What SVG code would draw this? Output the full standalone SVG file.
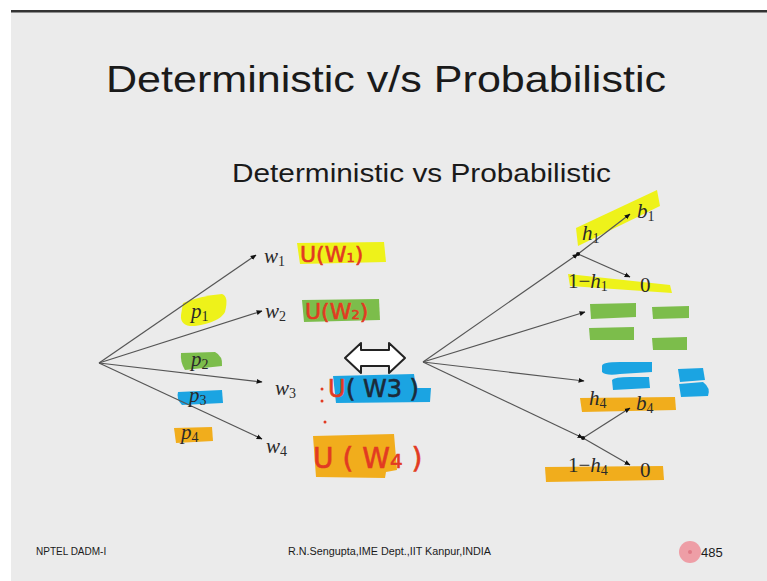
<svg xmlns="http://www.w3.org/2000/svg" width="767" height="581" viewBox="0 0 767 581">
<defs>
<marker id="ah" viewBox="0 0 10 10" refX="9" refY="5" markerWidth="6" markerHeight="6" orient="auto" markerUnits="userSpaceOnUse">
<path d="M0,1 L10,5 L0,9 z" fill="#111"/>
</marker>
<style>
.ln{stroke:#555;stroke-width:1.2;fill:none;marker-end:url(#ah)}
.sans{font-family:"Liberation Sans",Arial,sans-serif;fill:#1a1a1a}
.m{font-family:"Liberation Serif","Times New Roman",serif;font-style:italic;fill:#2a2a2a;font-size:21px}
.mu{font-family:"Liberation Serif","Times New Roman",serif;fill:#2a2a2a;font-size:21px}
.sub{font-style:normal;font-size:14px}
.hw{font-family:"DejaVu Sans",sans-serif;fill:#e23a22;stroke:#e23a22;stroke-width:0.6}
.yel{fill:#eef21a}
.grn{fill:#7cbd4b}
.blu{fill:#1ba4e2}
.org{fill:#f1ad1c}
.dot{fill:#111}
</style>
</defs>
<rect x="0" y="0" width="767" height="581" fill="#ffffff"/>
<rect x="11" y="12" width="756" height="569" fill="#ebebeb"/>
<rect x="11" y="10" width="756" height="2.5" fill="#333"/>

<g id="title">
<text class="sans" x="106" y="92" font-size="36" textLength="560" lengthAdjust="spacingAndGlyphs">Deterministic v/s Probabilistic</text>
</g>
<g id="subtitle">
<text class="sans" x="232" y="182" font-size="25" textLength="379" lengthAdjust="spacingAndGlyphs">Deterministic vs Probabilistic</text>
</g>

<g id="highlights">
<path class="yel" d="M183,303 Q200,296 222,294 Q229,296 225,312 Q220,322 195,326 Q180,327 181,315 Z"/>
<path class="grn" d="M181,353 L215,352 Q223,356 222,366 L185,370 Q180,362 181,353 Z"/>
<path class="blu" d="M178,392 L222,390 L223,403 L182,405 Q176,399 178,392 Z"/>
<path class="org" d="M174,428 L212,427 L213,441 L176,443 Z"/>
<path class="yel" d="M297,243 L384,242 L386,262 L300,264 Z"/>
<path class="grn" d="M302,300 L379,299 L380,320 L304,322 Z"/>
<path class="blu" d="M333,376 L414,374 L416,388 L431,388 L430,402 L336,403 Z"/>
<path class="org" d="M313,436 L394,434 L397,470 L386,472 L385,478 L316,477 Z"/>
<path class="yel" d="M576,228 L657,190 L660,206 L578,246 Z"/>
<path class="yel" d="M568,274 L670,285 L672,293 L570,286 Z"/>
<path class="grn" d="M590,304 L636,303 L636,317 L591,319 Z"/>
<path class="grn" d="M652,307 L689,306 L689,318 L653,319 Z"/>
<path class="grn" d="M589,328 L634,327 L634,340 L590,340 Z"/>
<path class="grn" d="M652,338 L687,337 L687,350 L653,350 Z"/>
<path class="blu" d="M602,366 Q602,362 620,362 L652,362 L652,372 L620,374 Q606,376 602,372 Z"/>
<path class="blu" d="M612,380 Q614,377 630,377 L649,377 L650,388 L613,390 Z"/>
<path class="blu" d="M678,369 L703,368 L705,380 L680,382 Z"/>
<path class="blu" d="M679,384 L703,382 Q711,388 708,396 L681,397 Z"/>
<path class="org" d="M580,398 L675,397 L676,410 L582,412 Z"/>
<path class="org" d="M545,467 L663,466 L664,480 L546,482 Z"/>
</g>

<g id="connectors">
<line class="ln" x1="99" y1="363" x2="256" y2="255"/>
<line class="ln" x1="99" y1="363" x2="262" y2="311"/>
<line class="ln" x1="99" y1="363" x2="262" y2="382"/>
<line class="ln" x1="99" y1="363" x2="262" y2="439"/>
<line class="ln" x1="423" y1="362" x2="578" y2="254"/>
<line class="ln" x1="423" y1="362" x2="585" y2="312"/>
<line class="ln" x1="423" y1="362" x2="584" y2="381"/>
<line class="ln" x1="423" y1="362" x2="583" y2="438"/>
<line class="ln" x1="578" y1="254" x2="630" y2="214"/>
<line class="ln" x1="578" y1="254" x2="630" y2="277"/>
<line class="ln" x1="583" y1="438" x2="630" y2="408"/>
<line class="ln" x1="583" y1="438" x2="630" y2="465"/>
<circle class="dot" cx="578" cy="254" r="2"/>
<circle class="dot" cx="583" cy="438" r="2"/>
</g>

<g id="w1"><text class="m" x="264" y="263">w<tspan class="sub" dy="3">1</tspan></text></g>
<g id="w2"><text class="m" x="265" y="318">w<tspan class="sub" dy="3">2</tspan></text></g>
<g id="w3"><text class="m" x="275" y="395">w<tspan class="sub" dy="3">3</tspan></text></g>
<g id="w4"><text class="m" x="266" y="453">w<tspan class="sub" dy="3">4</tspan></text></g>

<g id="p1"><text class="m" x="191" y="318">p<tspan class="sub" dy="3">1</tspan></text></g>
<g id="p2"><text class="m" x="191" y="366">p<tspan class="sub" dy="3">2</tspan></text></g>
<g id="p3"><text class="m" x="189" y="402">p<tspan class="sub" dy="3">3</tspan></text></g>
<g id="p4"><text class="m" x="181" y="439">p<tspan class="sub" dy="3">4</tspan></text></g>

<g id="u1"><text class="hw" x="300" y="262" font-size="22">U(W<tspan font-size="13">1</tspan>)</text></g>
<g id="u2"><text class="hw" x="305" y="319" font-size="22">U(W<tspan font-size="13">2</tspan>)</text></g>
<g id="u3">
<text class="hw" x="328" y="397" font-size="24">U</text>
<text x="346" y="397" font-size="24" font-family="'DejaVu Sans',sans-serif" fill="#1b2a3a" stroke="#1b2a3a" stroke-width="0.6">( W3 )</text>
<circle cx="322" cy="389" r="1.5" fill="#e23a22"/>
<circle cx="322" cy="401" r="1.5" fill="#e23a22"/>
<circle cx="325" cy="422" r="1.5" fill="#e23a22"/>
</g>
<g id="u4"><text class="hw" x="313" y="468" font-size="28">U ( W<tspan font-size="20">4</tspan> )</text></g>

<g id="dblarrow">
<path d="M345,358 L361,343 L361,350 L389,350 L389,343 L405,358 L389,373 L389,366 L361,366 L361,373 Z" fill="#ffffff" stroke="#222" stroke-width="2" stroke-linejoin="round"/>
</g>

<g id="h1"><text class="m" x="582" y="240">h<tspan class="sub" dy="3">1</tspan></text></g>
<g id="b1"><text class="m" x="637" y="218">b<tspan class="sub" dy="3">1</tspan></text></g>
<g id="nh1"><text class="mu" x="568" y="288">1−<tspan font-style="italic">h</tspan><tspan class="sub" dy="3">1</tspan></text></g>
<g id="z1"><text class="mu" x="640" y="292">0</text></g>
<g id="h4"><text class="m" x="589" y="405">h<tspan class="sub" dy="3">4</tspan></text></g>
<g id="b4"><text class="m" x="636" y="410">b<tspan class="sub" dy="3">4</tspan></text></g>
<g id="nh4"><text class="mu" x="568" y="472">1−<tspan font-style="italic">h</tspan><tspan class="sub" dy="3">4</tspan></text></g>
<g id="z4"><text class="mu" x="640" y="477">0</text></g>

<g id="footer">
<text class="sans" x="36" y="555" font-size="10" fill="#444">NPTEL DADM-I</text>
<text class="sans" x="288" y="555" font-size="10" fill="#444" textLength="203" lengthAdjust="spacingAndGlyphs">R.N.Sengupta,IME Dept.,IIT Kanpur,INDIA</text>
<circle cx="690" cy="552" r="11" fill="#ee9ea6"/>
<circle cx="690" cy="552" r="2" fill="#e07a86"/>
<text class="sans" x="701" y="557" font-size="13" fill="#333">485</text>
</g>
</svg>
